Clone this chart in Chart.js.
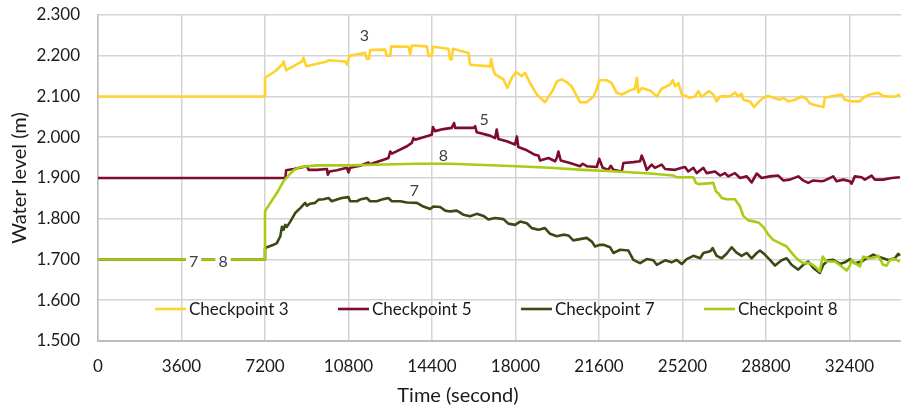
<!DOCTYPE html>
<html>
<head>
<meta charset="utf-8">
<title>Water level at checkpoints</title>
<script src="https://cdn.jsdelivr.net/npm/chart.js@4.4.1/dist/chart.umd.min.js"></script>
<style>
  html, body { margin: 0; padding: 0; background: #fff; }
  #wrap { width: 901px; height: 410px; position: relative; }
</style>
</head>
<body>
<div id="wrap"><canvas id="chart"></canvas></div>
<script>
// ---- data ----
const seriesNames = ['Checkpoint 3', 'Checkpoint 5', 'Checkpoint 7', 'Checkpoint 8'];
const seriesTags = ['3', '5', '7', '8'];
const xTickValues = [0, 3600, 7200, 10800, 14400, 18000, 21600, 25200, 28800, 32400];
const yTickValues = [1.5, 1.6, 1.7, 1.8, 1.9, 2.0, 2.1, 2.2, 2.3];

const cp3Time = [0, 7200, 7200, 7640, 7930, 8000, 8110, 8790, 8860, 8980,
  9870, 9940, 10660, 10730, 10840, 11520, 11590, 11690, 11730, 12380,
  12450, 12600, 12640, 13390, 13460, 13530, 14180, 14250, 14390, 14440,
  15110, 15180, 15250, 15300, 15970, 16040, 16900, 16950, 17020, 17120,
  17480, 17650, 17840, 18030, 18270, 18410, 18630, 18920, 19270, 19630,
  19780, 19990, 20210, 20420, 20570, 20780, 21070, 21360, 21500, 21610,
  21930, 22150, 22360, 22580, 22940, 23150, 23230, 23300, 23440, 23800,
  24090, 24300, 24660, 24780, 24880, 25020, 25170, 25520, 25740, 25880,
  26030, 26240, 26350, 26530, 26670, 26820, 27030, 27250, 27460, 27600,
  27750, 27820, 28110, 28280, 28470, 28680, 28900, 29110, 29400, 29540,
  29760, 30050, 30340, 30550, 30690, 30980, 31270, 31340, 31700, 32060,
  32200, 32490, 32850, 32990, 33280, 33640, 33850, 34070, 34360, 34570];
const cp3Level = [2.100, 2.100, 2.146, 2.162, 2.178, 2.186, 2.164, 2.186, 2.195, 2.174,
  2.186, 2.189, 2.186, 2.178, 2.200, 2.207, 2.192, 2.193, 2.214, 2.215,
  2.200, 2.200, 2.223, 2.222, 2.203, 2.225, 2.223, 2.200, 2.200, 2.222,
  2.217, 2.191, 2.191, 2.217, 2.207, 2.178, 2.174, 2.192, 2.170, 2.154,
  2.142, 2.121, 2.146, 2.160, 2.150, 2.158, 2.133, 2.105, 2.086, 2.117,
  2.137, 2.142, 2.135, 2.125, 2.109, 2.086, 2.086, 2.100, 2.117, 2.140,
  2.140, 2.133, 2.109, 2.105, 2.115, 2.119, 2.146, 2.110, 2.121, 2.115,
  2.100, 2.119, 2.129, 2.140, 2.125, 2.133, 2.105, 2.097, 2.100, 2.113,
  2.099, 2.109, 2.113, 2.105, 2.088, 2.100, 2.101, 2.100, 2.110, 2.100,
  2.107, 2.092, 2.088, 2.074, 2.086, 2.097, 2.101, 2.097, 2.092, 2.097,
  2.088, 2.092, 2.100, 2.094, 2.083, 2.078, 2.074, 2.097, 2.101, 2.105,
  2.092, 2.088, 2.088, 2.097, 2.105, 2.109, 2.101, 2.100, 2.100, 2.105];

const cp5Time = [0, 8080, 8110, 8430, 9010, 9080, 9440, 9870, 9910, 9980,
  10300, 10730, 10800, 10870, 11300, 11660, 11700, 12310, 12520, 12600,
  12670, 13320, 13530, 13600, 13670, 14390, 14440, 14530, 14890, 15250,
  15350, 15400, 15750, 16190, 16260, 16330, 16900, 17120, 17190, 17260,
  17620, 17980, 18060, 18120, 18490, 18840, 18990, 19060, 19420, 19710,
  19780, 19850, 19950, 20350, 20780, 20900, 21070, 21500, 21610, 21760,
  22000, 22110, 22220, 22580, 22650, 23080, 23370, 23440, 23540, 23660,
  23870, 24010, 24300, 24450, 24880, 25170, 25310, 25450, 25670, 25810,
  26100, 26240, 26600, 26820, 27030, 27170, 27460, 27680, 27970, 28180,
  28400, 28610, 28970, 29330, 29540, 29830, 30190, 30400, 30620, 30840,
  31200, 31340, 31700, 31840, 32130, 32420, 32490, 32630, 32920, 33060,
  33350, 33490, 33850, 34210, 34570];
const cp5Level = [1.900, 1.900, 1.919, 1.922, 1.929, 1.920, 1.920, 1.922, 1.908, 1.916,
  1.919, 1.925, 1.914, 1.925, 1.930, 1.938, 1.933, 1.945, 1.949, 1.965,
  1.960, 1.978, 1.986, 1.998, 1.994, 2.006, 2.025, 2.015, 2.020, 2.023,
  2.035, 2.023, 2.023, 2.023, 2.027, 2.012, 2.004, 1.998, 2.019, 1.996,
  1.990, 1.982, 2.002, 1.976, 1.968, 1.957, 1.955, 1.943, 1.949, 1.941,
  1.949, 1.965, 1.943, 1.937, 1.929, 1.935, 1.929, 1.927, 1.947, 1.925,
  1.920, 1.930, 1.920, 1.916, 1.937, 1.939, 1.941, 1.955, 1.941, 1.920,
  1.933, 1.925, 1.933, 1.922, 1.920, 1.925, 1.927, 1.916, 1.925, 1.912,
  1.925, 1.912, 1.916, 1.906, 1.912, 1.904, 1.912, 1.900, 1.904, 1.889,
  1.911, 1.900, 1.904, 1.906, 1.894, 1.896, 1.904, 1.894, 1.888, 1.894,
  1.892, 1.894, 1.904, 1.892, 1.896, 1.892, 1.886, 1.904, 1.902, 1.896,
  1.906, 1.896, 1.896, 1.900, 1.902];

const cp7Time = [0, 7200, 7200, 7570, 7710, 7860, 7930, 8000, 8070, 8140,
  8290, 8500, 8720, 8930, 9010, 9150, 9360, 9510, 9720, 9940,
  10080, 10300, 10510, 10800, 10870, 11160, 11300, 11590, 11730, 12020,
  12240, 12520, 12670, 13030, 13320, 13750, 14030, 14320, 14460, 14750,
  14970, 15180, 15470, 15750, 16040, 16330, 16620, 16830, 17120, 17480,
  17690, 17980, 18200, 18490, 18700, 18990, 19270, 19490, 19780, 20060,
  20280, 20490, 20780, 21070, 21290, 21430, 21650, 21790, 22080, 22220,
  22510, 22870, 23080, 23370, 23660, 23940, 24090, 24450, 24730, 24950,
  25170, 25380, 25670, 25960, 26100, 26390, 26500, 26670, 26890, 27100,
  27320, 27530, 27750, 27970, 28180, 28400, 28540, 28750, 28970, 29190,
  29470, 29690, 29900, 30190, 30400, 30620, 30840, 31120, 31270, 31480,
  31700, 31990, 32200, 32420, 32630, 32920, 33140, 33420, 33640, 33850,
  34070, 34360, 34500, 34570];
const cp7Level = [1.700, 1.700, 1.728, 1.736, 1.740, 1.757, 1.780, 1.773, 1.785, 1.780,
  1.793, 1.814, 1.826, 1.839, 1.832, 1.837, 1.839, 1.847, 1.848, 1.851,
  1.843, 1.847, 1.851, 1.853, 1.843, 1.843, 1.847, 1.851, 1.843, 1.843,
  1.847, 1.851, 1.843, 1.843, 1.840, 1.839, 1.830, 1.824, 1.830, 1.829,
  1.820, 1.818, 1.820, 1.810, 1.806, 1.812, 1.807, 1.798, 1.802, 1.799,
  1.788, 1.785, 1.793, 1.789, 1.777, 1.773, 1.777, 1.763, 1.757, 1.761,
  1.759, 1.747, 1.750, 1.753, 1.744, 1.732, 1.736, 1.736, 1.730, 1.716,
  1.724, 1.722, 1.699, 1.691, 1.701, 1.698, 1.687, 1.698, 1.693, 1.699,
  1.689, 1.701, 1.709, 1.703, 1.716, 1.720, 1.728, 1.709, 1.703, 1.714,
  1.730, 1.717, 1.709, 1.716, 1.703, 1.716, 1.722, 1.712, 1.699, 1.685,
  1.698, 1.703, 1.687, 1.675, 1.687, 1.695, 1.679, 1.667, 1.687, 1.698,
  1.699, 1.689, 1.693, 1.701, 1.691, 1.695, 1.703, 1.712, 1.707, 1.703,
  1.699, 1.703, 1.714, 1.709];

const cp8Time = [0, 7200, 7200, 7430, 7710, 8000, 8210, 8430, 8720, 9440,
  10870, 12310, 13750, 15180, 16620, 18060, 19490, 20930, 22360, 23800,
  24800, 24950, 25670, 25780, 25880, 26530, 26640, 26740, 26890, 27100,
  27460, 27680, 27820, 28040, 28470, 28680, 28900, 29110, 29400, 29690,
  29970, 30190, 30400, 30690, 30910, 31120, 31240, 31410, 31770, 32060,
  32280, 32420, 32490, 32630, 32850, 32990, 33280, 33490, 33640, 33850,
  34000, 34140, 34360, 34570];
const cp8Level = [1.700, 1.700, 1.818, 1.839, 1.863, 1.892, 1.906, 1.919, 1.927, 1.931,
  1.931, 1.933, 1.935, 1.935, 1.932, 1.929, 1.925, 1.920, 1.916, 1.911,
  1.906, 1.902, 1.902, 1.888, 1.885, 1.888, 1.867, 1.863, 1.851, 1.848,
  1.848, 1.830, 1.807, 1.796, 1.791, 1.780, 1.761, 1.748, 1.740, 1.732,
  1.712, 1.699, 1.691, 1.691, 1.683, 1.671, 1.707, 1.695, 1.695, 1.683,
  1.673, 1.685, 1.699, 1.691, 1.683, 1.707, 1.703, 1.705, 1.709, 1.687,
  1.685, 1.699, 1.701, 1.695];

// ---- styling ----
const seriesColors = ['#FFD22E', '#7E0C2C', '#3A4A14', '#A8CC14'];
const seriesTimes = [cp3Time, cp5Time, cp7Time, cp8Time];
const seriesLevels = [cp3Level, cp5Level, cp7Level, cp8Level];
const FONT = 'Lato, "Liberation Sans", sans-serif';
const TEXT = '#1a1a1a';

// in-plot series tags: which series, at what time, lifted how many px above the line
const tagPlacement = [
  { series: 0, at: 11480, lift: 17, boxed: false },
  { series: 1, at: 16650, lift: 14, boxed: false },
  { series: 3, at: 14890, lift: 8, boxed: false },
  { series: 2, at: 13640, lift: 12, boxed: false },
  { series: 2, at: 4120, lift: -2, boxed: true },
  { series: 3, at: 5390, lift: -2, boxed: true }
];

function levelAt(times, levels, t) {
  for (let i = 1; i < times.length; i++) {
    if (t <= times[i]) {
      const t0 = times[i - 1], t1 = times[i];
      if (t1 === t0) return levels[i];
      return levels[i - 1] + (levels[i] - levels[i - 1]) * (t - t0) / (t1 - t0);
    }
  }
  return levels[levels.length - 1];
}

const datasets = seriesNames.map((name, i) => ({
  label: name,
  data: seriesTimes[i].map((t, k) => ({ x: t, y: seriesLevels[i][k] })),
  borderColor: seriesColors[i],
  backgroundColor: seriesColors[i],
  borderWidth: 2.6,
  pointRadius: 0,
  tension: 0,
  fill: false,
  borderJoinStyle: 'round',
  order: seriesNames.length - i   // later checkpoints are painted on top
}));

const overlay = {
  id: 'overlay',
  afterDatasetsDraw(chart) {
    const { ctx, chartArea } = chart;
    const xs = chart.scales.x, ys = chart.scales.y;
    ctx.save();

    // series tags
    ctx.font = '16px ' + FONT;
    ctx.textAlign = 'center';
    ctx.textBaseline = 'middle';
    tagPlacement.forEach(tag => {
      const v = levelAt(seriesTimes[tag.series], seriesLevels[tag.series], tag.at);
      const px = xs.getPixelForValue(tag.at);
      const py = ys.getPixelForValue(v) - tag.lift;
      const text = seriesTags[tag.series];
      if (tag.boxed) {
        const w = ctx.measureText(text).width;
        ctx.fillStyle = '#ffffff';
        ctx.fillRect(px - w / 2 - 3, py - 9, w + 6, 18);
      }
      ctx.fillStyle = '#404040';
      ctx.fillText(text, px, py);
    });

    // legend inside the plot, along the bottom
    ctx.font = '17px ' + FONT;
    ctx.textAlign = 'left';
    const ly = chartArea.bottom - 32;
    seriesNames.forEach((name, i) => {
      const lx = chartArea.left + 57 + i * 183;
      ctx.strokeStyle = seriesColors[i];
      ctx.lineWidth = 2.6;
      ctx.beginPath();
      ctx.moveTo(lx, ly);
      ctx.lineTo(lx + 31, ly);
      ctx.stroke();
      ctx.fillStyle = TEXT;
      ctx.fillText(name, lx + 34, ly + 1);
    });

    // horizontal axis title
    ctx.font = '20px ' + FONT;
    ctx.textAlign = 'center';
    ctx.fillStyle = TEXT;
    ctx.fillText('Time (second)', chartArea.left + 360, chart.height - 14);
    ctx.restore();
  }
};

new Chart(document.getElementById('chart'), {
  type: 'line',
  data: { datasets },
  options: {
    responsive: true,
    maintainAspectRatio: false,
    animation: false,
    events: [],
    layout: { padding: { top: 15, right: 0, bottom: 0, left: 0 } },
    plugins: {
      legend: { display: false },
      tooltip: { enabled: false }
    },
    scales: {
      x: {
        type: 'linear',
        min: 0,
        max: 34620,
        afterBuildTicks(scale) { scale.ticks = xTickValues.map(v => ({ value: v })); },
        afterFit(scale) { scale.height = 69; scale.paddingRight = 0; },
        ticks: {
          autoSkip: false,
          maxRotation: 0,
          padding: 15,
          color: TEXT,
          font: { family: FONT, size: 17 },
          callback: v => String(v)
        },
        grid: { color: '#d4d4d4', lineWidth: 1.5, drawTicks: false },
        border: { color: '#bdbdbd', width: 2 }
      },
      y: {
        type: 'linear',
        min: 1.5,
        max: 2.3,
        afterBuildTicks(scale) { scale.ticks = yTickValues.map(v => ({ value: v })); },
        afterFit(scale) {
          scale.width = 98;
          scale.paddingTop = 0;
          scale.paddingBottom = 0;
        },
        ticks: {
          padding: 18,
          color: TEXT,
          font: { family: FONT, size: 17 },
          callback: v => Number(v).toFixed(3)
        },
        title: {
          display: true,
          text: 'Water level (m)',
          color: TEXT,
          font: { family: FONT, size: 20 },
          padding: { top: 8, bottom: 0 }
        },
        grid: { color: '#d4d4d4', lineWidth: 1.5, drawTicks: false },
        border: { color: '#bdbdbd', width: 1.5 }
      }
    }
  },
  plugins: [overlay]
});
</script>
</body>
</html>
